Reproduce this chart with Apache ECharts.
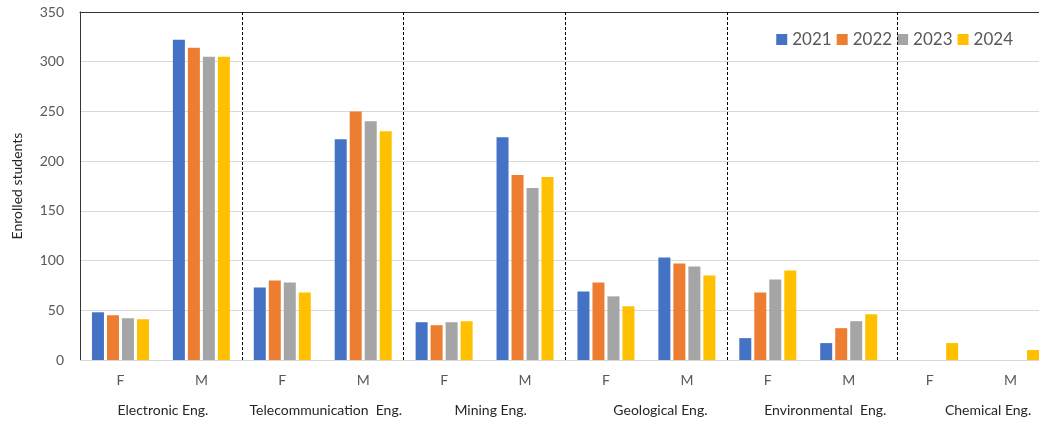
<!DOCTYPE html>
<html>
<head>
<meta charset="utf-8">
<script src="https://cdn.jsdelivr.net/npm/echarts@6/dist/echarts.min.js"></script>
<style>html,body{margin:0;padding:0;background:#fff;overflow:hidden}#c{width:1051px;height:421px}</style>
</head>
<body>
<div id="c"></div>
<script>
const categories = ['F','M','F','M','F','M','F','M','F','M','F','M'];
const programs = ['Electronic Eng.','Telecommunication  Eng.','Mining Eng.','Geological Eng.','Environmental  Eng.','Chemical Eng.'];
const years = ['2021','2022','2023','2024'];
const y2021 = [48, 322, 73, 222, 38, 224, 69, 103, 22, 17, 0, 0];
const y2022 = [45, 314, 80, 250, 35, 186, 78, 97, 68, 32, 0, 0];
const y2023 = [42, 305, 78, 240, 38, 173, 64, 94, 81, 39, 0, 0];
const y2024 = [41, 305, 68, 230, 39, 184, 54, 85, 90, 46, 17, 10];
const separators = [2, 4, 6, 8, 10.1];
const yTicks = {min: 0, max: 350, interval: 50};

const colors = ['#4472C4','#ED7D31','#A5A5A5','#FFC000'];
const seriesData = [y2021, y2022, y2023, y2024];
// small horizontal nudges of the group captions (px), as in the original layout
const captionNudge = [2, 3, 6, 14, 17, 18];
const rich = {};
captionNudge.forEach((n, i) => { rich['g' + i] = {fontSize: 14, color: '#262626', fontFamily: 'Lato', padding: [0, 0, 0, 2 * n]}; });

const chart = echarts.init(document.getElementById('c'));
const series = years.map((y, i) => ({
  name: y, type: 'bar', xAxisIndex: 0, yAxisIndex: 0,
  data: seriesData[i], barWidth: 12, barGap: '25%',
  itemStyle: {color: colors[i]}
}));
series.push({
  type: 'line', xAxisIndex: 2, yAxisIndex: 0, data: [], silent: true,
  markLine: {
    symbol: 'none', silent: true, label: {show: false},
    lineStyle: {color: '#000', type: [3, 2], width: 1},
    data: separators.map(v => ({xAxis: v}))
  }
});

chart.setOption({
  animation: false,
  textStyle: {fontFamily: 'Lato'},
  color: colors,
  grid: {left: 80, top: 12, right: 0, bottom: 61, containLabel: false},
  legend: {
    data: years, right: 33, top: 26, itemWidth: 11, itemHeight: 11, itemGap: 5,
    icon: 'rect', textStyle: {fontSize: 17, color: '#595959', fontFamily: 'Lato'}
  },
  xAxis: [
    {type: 'category', data: categories, position: 'bottom',
     axisLine: {show: true, lineStyle: {color: '#d9d9d9'}}, axisTick: {show: false},
     axisLabel: {fontSize: 14, color: '#595959', margin: 13}},
    {type: 'category', data: programs, position: 'bottom',
     axisLine: {show: false}, axisTick: {show: false},
     axisLabel: {fontSize: 14, color: '#262626', margin: 43, interval: 0,
       formatter: (v, i) => '{g' + i + '|' + v + '}', rich: rich}},
    {type: 'value', min: 0, max: 12, position: 'top',
     axisLine: {show: true, lineStyle: {color: '#333', width: 1}}, axisTick: {show: false},
     axisLabel: {show: false}, splitLine: {show: false}}
  ],
  yAxis: [{
    type: 'value', min: yTicks.min, max: yTicks.max, interval: yTicks.interval,
    name: 'Enrolled students', nameLocation: 'middle', nameGap: 56,
    nameTextStyle: {fontSize: 14, color: '#262626'},
    axisLine: {show: true, lineStyle: {color: '#333'}}, axisTick: {show: false},
    axisLabel: {fontSize: 14, color: '#595959', margin: 16},
    splitLine: {lineStyle: {color: '#d9d9d9'}}
  }],
  series: series
});
</script>
</body>
</html>
